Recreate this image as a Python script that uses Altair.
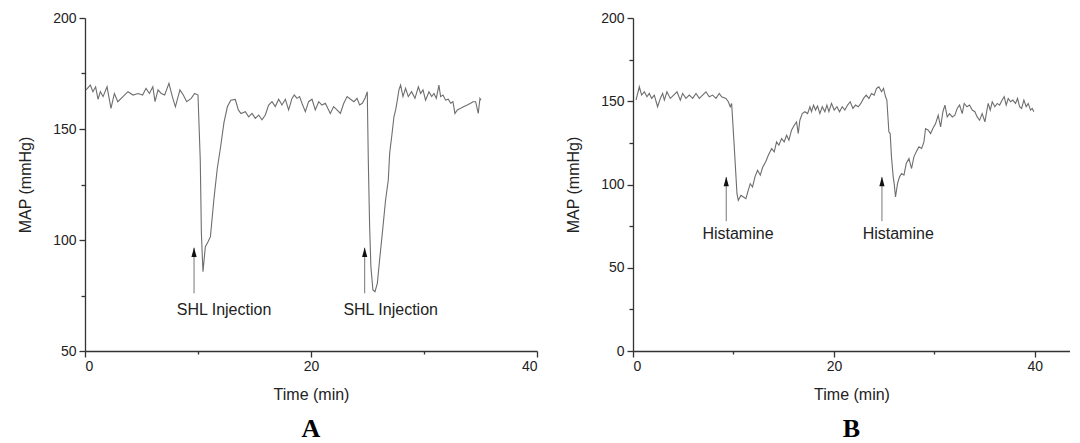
import altair as alt
import pandas as pd

# ---------------- Panel A (SHL injection) ----------------
a_time = [0.1, 0.47, 0.7, 0.94, 1.15, 1.36, 1.6, 1.95, 2.3, 2.6, 2.9, 3.36, 3.8, 4.25, 4.7,
          5.1, 5.4, 5.7, 6.0, 6.2, 6.46, 6.75, 7.05, 7.43, 7.73, 8.0, 8.4, 8.7, 9.0, 9.4,
          9.7, 10.0, 10.2, 10.3, 10.44, 10.65, 10.9, 11.1, 11.4, 11.7, 12.0, 12.3, 12.6,
          12.9, 13.3, 13.57, 13.8, 14.19, 14.48, 14.78, 15.07, 15.37, 15.66, 15.96, 16.25,
          16.55, 16.84, 17.14, 17.43, 17.73, 18.02, 18.32, 18.52, 18.76, 18.99, 19.2, 19.5,
          19.79, 20.09, 20.38, 20.68, 20.97, 21.27, 21.71, 22.0, 22.3, 22.6, 22.9, 23.2,
          23.5, 23.8, 24.07, 24.3, 24.54, 24.78, 24.98, 25.07, 25.19, 25.3, 25.48, 25.66,
          25.87, 26.07, 26.31, 26.6, 26.84, 26.96, 27.14, 27.34, 27.49, 27.64, 27.78, 27.93,
          28.14, 28.37, 28.61, 28.9, 29.2, 29.5, 29.7, 29.91, 30.14, 30.44, 30.68, 30.88,
          31.09, 31.32, 31.47, 31.68, 31.91, 32.15, 32.36, 32.56, 32.74, 32.95, 33.24, 33.54,
          33.83, 34.13, 34.33, 34.57, 34.8, 34.95, 35.04]
a_map = [167.6, 169.8, 166.8, 169.0, 163.4, 166.8, 164.6, 169.0, 159.3, 166.0, 162.3, 164.6,
         166.8, 165.3, 166.0, 165.3, 168.3, 166.0, 169.0, 162.3, 167.6, 166.0, 165.3, 170.6,
         164.6, 160.0, 167.6, 165.3, 162.3, 163.8, 166.0, 165.3, 136.0, 103.0, 85.7, 97.0,
         99.3, 101.5, 118.0, 132.0, 142.0, 153.0, 160.0, 163.0, 163.3, 158.6, 157.0, 157.8,
         155.5, 157.0, 154.8, 156.3, 154.1, 156.3, 160.8, 162.3, 160.1, 163.4, 160.8, 163.4,
         158.6, 163.8, 165.3, 163.8, 164.6, 161.6, 157.8, 162.3, 163.4, 158.6, 162.3, 160.8,
         161.6, 157.0, 160.1, 158.6, 157.0, 161.6, 164.6, 163.4, 162.3, 163.8, 160.8, 161.6,
         163.8, 166.8, 136.0, 106.0, 88.0, 77.5, 76.7, 80.5, 91.0, 103.0, 118.0, 127.0, 139.0,
         146.5, 155.5, 158.6, 163.0, 167.6, 169.8, 164.6, 168.3, 164.6, 166.8, 163.8, 169.0,
         166.0, 167.6, 163.0, 166.8, 164.6, 166.0, 163.8, 169.8, 164.6, 165.3, 163.0, 163.4,
         161.6, 162.3, 157.0, 158.6, 159.3, 160.1, 160.8, 161.6, 162.3, 162.3, 157.0, 163.8,
         163.0]
a_arrow_time = [9.65, 24.75]
a_arrow_base = [76.0, 76.0]
a_arrow_tip = [96.5, 96.5]
a_label_time = [12.3, 27.05]
a_label_map = [68.5, 68.5]
a_label_text = ["SHL Injection", "SHL Injection"]

# ---------------- Panel B (Histamine) ----------------
b_time = [0.3, 0.63, 0.86, 1.13, 1.39, 1.62, 1.86, 2.12, 2.45, 2.72, 2.95, 3.12, 3.38, 3.71,
          4.05, 4.38, 4.71, 4.94, 5.27, 5.6, 5.94, 6.27, 6.6, 6.93, 7.26, 7.59, 7.93, 8.26,
          8.59, 8.82, 9.25, 9.49, 9.68, 9.82, 10.08, 10.35, 10.48, 10.75, 11.0, 11.24, 11.47,
          11.67, 11.9, 12.14, 12.4, 12.67, 12.9, 13.23, 13.47, 13.8, 14.06, 14.29, 14.52,
          14.79, 15.05, 15.29, 15.52, 15.78, 16.05, 16.28, 16.45, 16.61, 16.85, 17.11, 17.38,
          17.61, 17.77, 17.97, 18.17, 18.37, 18.6, 18.84, 19.1, 19.3, 19.5, 19.76, 20.03,
          20.3, 20.56, 20.83, 21.09, 21.36, 21.62, 21.89, 22.15, 22.42, 22.68, 22.95, 23.21,
          23.48, 23.74, 24.01, 24.24, 24.47, 24.74, 24.94, 25.14, 25.27, 25.47, 25.6, 25.73,
          25.9, 26.0, 26.13, 26.33, 26.53, 26.74, 26.97, 27.2, 27.47, 27.73, 27.96, 28.2,
          28.46, 28.73, 28.96, 29.12, 29.39, 29.62, 29.85, 30.12, 30.38, 30.62, 30.85, 31.05,
          31.28, 31.51, 31.78, 32.04, 32.27, 32.51, 32.77, 32.97, 33.24, 33.5, 33.77, 34.03,
          34.26, 34.5, 34.76, 35.03, 35.23, 35.36, 35.56, 35.76, 36.02, 36.25, 36.49, 36.75,
          36.95, 37.15, 37.35, 37.58, 37.81, 38.08, 38.28, 38.48, 38.68, 38.91, 39.14, 39.34,
          39.57, 39.74, 39.9]
b_map = [150.7, 158.7, 153.7, 155.7, 152.7, 154.7, 151.7, 153.7, 146.7, 151.7, 154.7, 150.7,
         155.7, 151.7, 153.7, 155.7, 150.7, 154.7, 151.7, 153.7, 151.7, 154.7, 151.7, 153.7,
         155.7, 152.7, 153.7, 151.7, 154.7, 152.7, 151.7, 149.7, 146.7, 148.7, 122.6, 94.5,
         90.5, 93.5, 92.5, 91.5, 96.5, 100.5, 98.5, 104.6, 108.6, 105.6, 110.2, 114.0, 117.6,
         121.6, 119.6, 125.6, 123.6, 127.6, 125.6, 129.6, 126.6, 132.6, 135.6, 137.6, 130.6,
         138.6, 142.6, 143.7, 142.6, 146.7, 143.7, 147.7, 144.7, 147.1, 142.6, 146.7, 143.7,
         147.7, 143.7, 148.7, 144.7, 146.7, 143.7, 146.7, 144.7, 147.7, 149.7, 145.7, 147.7,
         146.7, 148.7, 151.7, 153.7, 151.7, 154.7, 153.7, 157.7, 158.7, 155.7, 157.7, 152.7,
         150.7, 131.6, 130.6, 116.6, 104.6, 100.5, 92.5, 100.5, 104.6, 106.6, 105.6, 112.6,
         115.6, 109.6, 116.6, 119.6, 122.6, 121.6, 125.6, 133.6, 132.6, 130.6, 133.6, 136.6,
         141.6, 134.6, 143.7, 147.7, 140.6, 142.6, 140.6, 141.6, 145.7, 147.7, 142.6, 148.7,
         146.7, 147.7, 144.7, 143.7, 140.6, 138.6, 142.6, 137.6, 144.7, 148.7, 144.7, 149.7,
         146.7, 148.7, 147.7, 150.7, 152.7, 147.7, 151.7, 149.7, 150.7, 148.7, 151.7, 146.7,
         145.7, 150.7, 146.7, 148.7, 144.7, 145.7, 143.7]
b_arrow_time = [9.28, 24.78]
b_arrow_base = [78.0, 78.0]
b_arrow_tip = [104.5, 104.5]
b_label_time = [10.45, 26.4]
b_label_map = [70.0, 70.0]
b_label_text = ["Histamine", "Histamine"]

x_ticks = [0, 10, 20, 30, 40]
y_ticks_a = [50, 75, 100, 125, 150, 175, 200]
y_ticks_b = [0, 25, 50, 75, 100, 125, 150, 175, 200]

SANS = "Liberation Sans"
LINE_COLOR = "#6e6e6e"
TEXT_COLOR = "#222222"


def panel(time, vals, ar_t, ar_base, ar_tip, lb_t, lb_v, lb_txt,
          xdom, ydom, yticks, width, caption):
    df = pd.DataFrame({"t": time, "v": vals})
    adf = pd.DataFrame({"t": ar_t, "v": ar_base, "tip": ar_tip})
    tdf = pd.DataFrame({"t": lb_t, "v": lb_v, "txt": lb_txt})

    xaxis = alt.Axis(
        values=x_ticks, format="d", grid=False,
        labelExpr="datum.value % 20 == 0 ? datum.label : ''",
        tickSize={"condition": {"test": "datum.value % 20 == 0", "value": 6}, "value": 3},
        labelPadding=2, titlePadding=13, labelOverlap=False,
    )
    yaxis = alt.Axis(
        values=yticks, format="d", grid=False,
        labelExpr="datum.value % 50 == 0 ? datum.label : ''",
        tickSize={"condition": {"test": "datum.value % 50 == 0", "value": 6}, "value": 4},
        labelPadding=3, titlePadding=19, labelOverlap=False,
    )
    xs = alt.Scale(domain=xdom, nice=False, zero=False)
    ys = alt.Scale(domain=ydom, nice=False, zero=False)

    def X():
        return alt.X("t:Q", scale=xs, axis=xaxis, title="Time (min)")

    def Y(field):
        return alt.Y(f"{field}:Q", scale=ys, axis=yaxis, title="MAP (mmHg)")

    line = alt.Chart(df).mark_line(color=LINE_COLOR, strokeWidth=1.1).encode(
        x=X(), y=Y("v"))
    shaft = alt.Chart(adf).mark_rule(color="#777777", strokeWidth=1).encode(
        x=X(), y=Y("v"), y2="tip:Q")
    head = alt.Chart(adf).mark_point(
        shape="M0,-1L-0.55,1L0.55,1Z", filled=True, color="#111111",
        opacity=1, size=90, yOffset=4.5).encode(x=X(), y=Y("tip"))
    text = alt.Chart(tdf).mark_text(
        font=SANS, fontSize=16, color=TEXT_COLOR, align="center", baseline="middle"
    ).encode(x=X(), y=Y("v"), text="txt:N")

    return alt.layer(line, shaft, head, text).properties(
        width=width, height=333,
        title=alt.TitleParams(caption, orient="bottom", anchor="middle",
                              font="Liberation Serif", fontSize=26,
                              fontWeight="bold", color="#000000", offset=14),
    )


pa = panel(a_time, a_map, a_arrow_time, a_arrow_base, a_arrow_tip,
           a_label_time, a_label_map, a_label_text,
           [0, 40], [50, 200], y_ticks_a, 452, "A")
pb = panel(b_time, b_map, b_arrow_time, b_arrow_base, b_arrow_tip,
           b_label_time, b_label_map, b_label_text,
           [0, 43.5], [0, 200], y_ticks_b, 437, "B")

chart = alt.hconcat(pa, pb, spacing=27).properties(
    padding={"left": 9, "top": 3, "right": 0, "bottom": 0},
    background="white",
).configure_view(stroke=None).configure_axis(
    labelFont=SANS, labelFontSize=14, labelColor=TEXT_COLOR,
    titleFont=SANS, titleFontSize=16, titleFontWeight="normal", titleColor=TEXT_COLOR,
    domainColor="#333333", tickColor="#333333", domainWidth=1.3, tickWidth=1.3,
)

chart.save("out.html", embed_options={"renderer": "svg", "actions": False})
